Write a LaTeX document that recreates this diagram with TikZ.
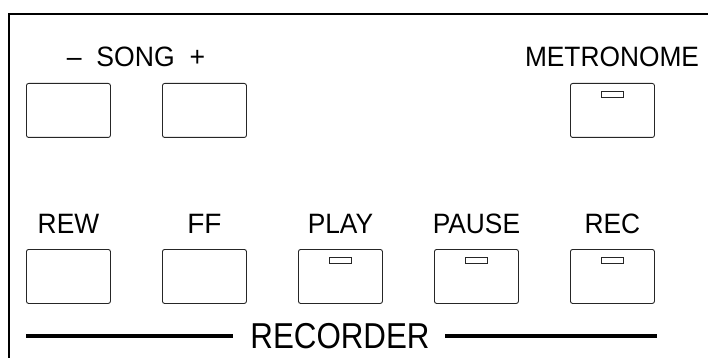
\documentclass[tikz,border=0pt]{standalone}
\usepackage{fontspec}
\setmainfont{Liberation Sans}
\begin{document}
\begin{tikzpicture}[x=1pt,y=-1pt,
  btn/.style={draw=black!85, line width=0.9pt, rounded corners=2.2pt, minimum width=84pt, minimum height=54pt, inner sep=0pt, anchor=north west},
  led/.style={draw=black!85, line width=0.8pt, minimum width=22pt, minimum height=6pt, inner sep=0pt, anchor=north},
  lbl/.style={anchor=base, inner sep=0pt, font=\fontsize{28}{30}\selectfont},
  frame/.style={line width=2.2pt, line cap=rect},
  recline/.style={line width=3.5pt}]
\useasboundingbox (0,0) rectangle (708,358);
% frame
\coordinate (ftop) at (9,14);
\coordinate (fright) at (712,14);
\coordinate (fbot) at (9,362);
\draw[frame] (fbot) -- (ftop) -- (fright);
% top row
\node[btn] (sm) at (26,83) {};
\node[btn] (sp) at (162,83) {};
\node[btn] (met) at (570,83) {};
\node[led] (metled) at ([yshift=-8pt]met.north) {};
\node[lbl] (song) at (136,67) {\scalebox{0.95}[1]{–\ \ SONG\ \ +}};
\node[lbl] (metl) at (612,67) {\scalebox{0.94}[1]{METRONOME}};
% bottom row
\node[btn] (rew) at (26,249) {};
\node[btn] (ff) at (162,249) {};
\node[btn] (play) at (298,249) {};
\node[btn] (pause) at (434,249) {};
\node[btn] (rec) at (570,249) {};
\node[led] (playled) at ([yshift=-8pt]play.north) {};
\node[led] (pauseled) at ([yshift=-8pt]pause.north) {};
\node[led] (recled) at ([yshift=-8pt]rec.north) {};
\node[lbl] (rewl) at (rew.north |- 0,233) {\scalebox{0.94}[1]{REW}};
\node[lbl] (ffl) at (ff.north |- 0,233) {FF};
\node[lbl] (playl) at (play.north |- 0,233) {\scalebox{0.94}[1]{PLAY}};
\node[lbl] (pausel) at (pause.north |- 0,233) {\scalebox{0.94}[1]{PAUSE}};
\node[lbl] (recl) at (rec.north |- 0,233) {\scalebox{0.94}[1]{REC}};
% recorder
\node[lbl, font=\fontsize{36}{38}\selectfont] (recorder) at (340,348) {\scalebox{0.87}[1]{RECORDER}};
\coordinate (l1) at (26,336);
\coordinate (l2) at (233,336);
\coordinate (r1) at (445,336);
\coordinate (r2) at (657,336);
\draw[recline] (l1) -- (l2);
\draw[recline] (r1) -- (r2);
\end{tikzpicture}
\end{document}
